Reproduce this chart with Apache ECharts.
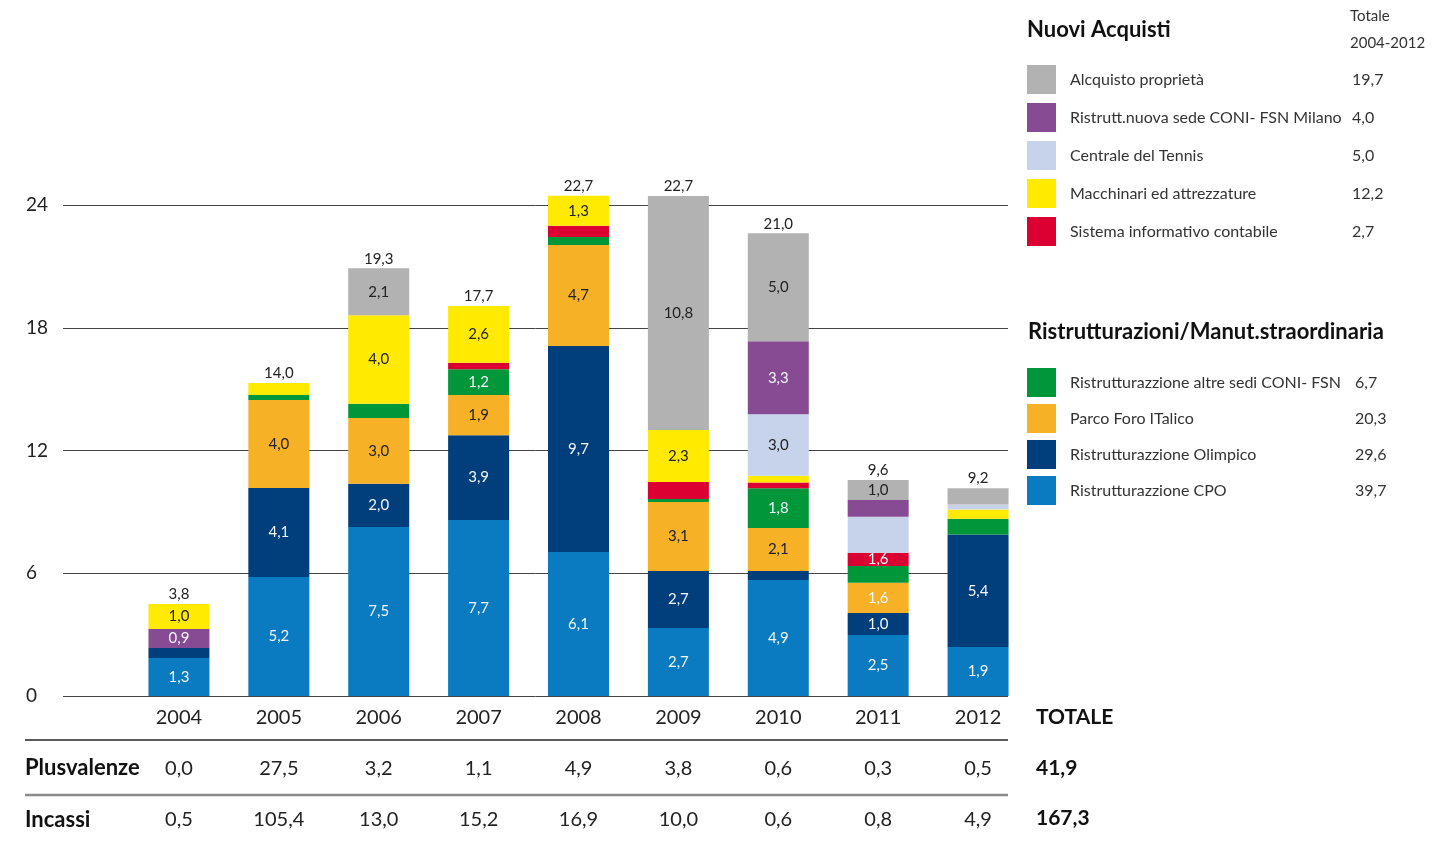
<!DOCTYPE html>
<html>
<head>
<meta charset="utf-8">
<title>Investimenti 2004-2012</title>
<script src="https://cdn.jsdelivr.net/npm/echarts@6/dist/echarts.min.js"></script>
<style>
  html, body { margin: 0; padding: 0; background: #fff; }
  #chart { width: 1437px; height: 848px; }
</style>
</head>
<body>
<div id="chart"></div>
<script>
// anni (categorie)
var years = ["2004", "2005", "2006", "2007", "2008", "2009", "2010", "2011", "2012"];

// altezze dei segmenti (dal basso verso l'alto)
var cpo        = [1.86, 5.82, 8.26, 8.60, 7.04, 3.32, 5.67, 2.98, 2.39];
var olimpico   = [0.49, 4.35, 2.12, 4.15, 10.07, 2.79, 0.44, 1.08, 5.51];
var parco      = [0, 4.30, 3.21, 1.96, 4.94, 3.37, 2.10, 1.47, 0];
var altreSedi  = [0, 0.24, 0.70, 1.26, 0.38, 0.15, 1.94, 0.82, 0.77];
var sistema    = [0, 0, 0, 0.32, 0.55, 0.83, 0.29, 0.65, 0];
// nel 2004 il viola sta sotto il giallo
var milano2004 = [0.93, 0, 0, 0, 0, 0, 0, 0, 0];
var macchinari = [1.22, 0.59, 4.32, 2.77, 1.47, 2.54, 0.33, 0, 0.45];
var tennis     = [0, 0, 0, 0, 0, 0, 3.00, 1.76, 0.24];
var milano     = [0, 0, 0, 0, 0, 0, 3.57, 0.82, 0];
var acquisto   = [0, 0, 2.30, 0, 0, 11.44, 5.28, 0.98, 0.80];

// etichette stampate sui segmenti
var lblCpo        = ["1,3", "5,2", "7,5", "7,7", "6,1", "2,7", "4,9", "2,5", "1,9"];
var lblOlimpico   = ["", "4,1", "2,0", "3,9", "9,7", "2,7", "", "1,0", "5,4"];
var lblParco      = ["", "4,0", "3,0", "1,9", "4,7", "3,1", "2,1", "1,6", ""];
var lblAltreSedi  = ["", "", "", "1,2", "", "", "1,8", "", ""];
var lblSistema    = ["", "", "", "", "", "", "", "1,6", ""];
var lblMilano2004 = ["0,9", "", "", "", "", "", "", "", ""];
var lblMacchinari = ["1,0", "", "4,0", "2,6", "1,3", "2,3", "", "", ""];
var lblTennis     = ["", "", "", "", "", "", "3,0", "", ""];
var lblMilano     = ["", "", "", "", "", "", "3,3", "", ""];
var lblAcquisto   = ["", "", "2,1", "", "", "10,8", "5,0", "1,0", ""];

// totali sopra le barre
var totals = ["3,8", "14,0", "19,3", "17,7", "22,7", "22,7", "21,0", "9,6", "9,2"];

// tabella sotto il grafico
var plusvalenze = ["0,0", "27,5", "3,2", "1,1", "4,9", "3,8", "0,6", "0,3", "0,5"];
var incassi     = ["0,5", "105,4", "13,0", "15,2", "16,9", "10,0", "0,6", "0,8", "4,9"];
var totPlusvalenze = "41,9";
var totIncassi = "167,3";

// totali di legenda 2004-2012
var nuoviNames  = ["Alcquisto proprietà", "Ristrutt.nuova sede CONI- FSN Milano", "Centrale del Tennis", "Macchinari ed attrezzature", "Sistema informativo contabile"];
var nuoviTotals = ["19,7", "4,0", "5,0", "12,2", "2,7"];
var ristrNames  = ["Ristrutturazzione altre sedi CONI- FSN", "Parco Foro ITalico", "Ristrutturazzione Olimpico", "Ristrutturazzione CPO"];
var ristrTotals = ["6,7", "20,3", "29,6", "39,7"];

// tick asse y
var yTicks = [0, 6, 12, 18, 24];

var FONT = "Lato";
var DARK = "#222";
var LIGHT = "#f2f6fb";

// definizione serie (ordine di impilamento)
var defs = [
  { name: "Ristrutturazzione CPO", color: "#0a7bc0", values: cpo, labels: lblCpo, txt: LIGHT },
  { name: "Ristrutturazzione Olimpico", color: "#003e7c", values: olimpico, labels: lblOlimpico, txt: LIGHT },
  { name: "Parco Foro ITalico", color: "#f6b126", values: parco, labels: lblParco, txt: DARK },
  { name: "Ristrutturazzione altre sedi CONI- FSN", color: "#00963a", values: altreSedi, labels: lblAltreSedi, txt: LIGHT },
  { name: "Sistema informativo contabile", color: "#dc0032", values: sistema, labels: lblSistema, txt: LIGHT },
  { name: "Ristrutt.nuova sede CONI- FSN Milano", color: "#874b93", values: milano2004, labels: lblMilano2004, txt: LIGHT },
  { name: "Macchinari ed attrezzature", color: "#ffea00", values: macchinari, labels: lblMacchinari, txt: DARK },
  { name: "Centrale del Tennis", color: "#c7d3ea", values: tennis, labels: lblTennis, txt: DARK },
  { name: "Ristrutt.nuova sede CONI- FSN Milano", color: "#874b93", values: milano, labels: lblMilano, txt: LIGHT },
  { name: "Alcquisto proprietà", color: "#b2b2b2", values: acquisto, labels: lblAcquisto, txt: DARK }
];

var series = defs.map(function (d) {
  return {
    name: d.name,
    type: "bar",
    stack: "tot",
    xAxisIndex: 1,
    yAxisIndex: 1,
    barWidth: 61,
    clip: false,
    itemStyle: { color: d.color },
    label: {
      show: true,
      position: "inside",
      fontFamily: FONT,
      fontSize: 15,
      color: d.txt,
      formatter: function (p) { return d.labels[p.dataIndex]; }
    },
    emphasis: { disabled: true },
    data: d.values.map(function (v, i) {
      // nel 2011 l'etichetta sul parco e' bianca
      if (d.values === parco && years[i] === "2011") {
        return { value: v, label: { color: LIGHT } };
      }
      return v;
    })
  };
});

// serie vuota in cima per il totale
series.push({
  name: "totale",
  type: "bar",
  stack: "tot",
  xAxisIndex: 1,
  yAxisIndex: 1,
  barWidth: 61,
  clip: false,
  itemStyle: { color: "transparent" },
  label: {
    show: true,
    position: "top",
    distance: 2,
    fontFamily: FONT,
    fontSize: 15,
    color: DARK,
    formatter: function (p) { return totals[p.dataIndex]; }
  },
  data: years.map(function () { return 0; })
});

function legendFmt(names, vals) {
  return function (name) {
    return "{n|" + name + "}{v|" + vals[names.indexOf(name)] + "}";
  };
}
function legendRich(w) {
  return {
    n: { width: w, padding: [0, 0, 0, 9], fontFamily: FONT, fontSize: 16, color: "#333" },
    v: { fontFamily: FONT, fontSize: 16, color: "#333" }
  };
}

var myChart = echarts.init(document.getElementById("chart"));
myChart.setOption({
  animation: false,
  textStyle: { fontFamily: FONT },
  grid: [
    // griglia per le linee orizzontali e tick
    { left: 63, right: 429, top: 205, bottom: 152 },
    // griglia delle barre
    { left: 129, right: 409, top: 205, bottom: 152 }
  ],
  legend: [
    {
      data: nuoviNames,
      orient: "vertical",
      left: 1027,
      top: 65,
      padding: 0,
      itemWidth: 29,
      itemHeight: 29,
      itemGap: 9,
      icon: "rect",
      selectedMode: false,
      formatter: legendFmt(nuoviNames, nuoviTotals),
      textStyle: { rich: legendRich(282) }
    },
    {
      data: ristrNames,
      orient: "vertical",
      left: 1027,
      top: 368,
      padding: 0,
      itemWidth: 29,
      itemHeight: 29,
      itemGap: 7,
      icon: "rect",
      selectedMode: false,
      formatter: legendFmt(ristrNames, ristrTotals),
      textStyle: { rich: legendRich(285) }
    }
  ],
  xAxis: [
    { gridIndex: 0, type: "value", show: false },
    {
      gridIndex: 1,
      type: "category",
      data: years,
      axisLine: { show: false },
      axisTick: { show: false },
      axisLabel: { margin: 12, fontFamily: FONT, fontSize: 20, color: DARK }
    },
    {
      // riga Plusvalenze
      gridIndex: 1,
      type: "category",
      position: "bottom",
      offset: 53,
      data: years,
      axisLine: { show: false },
      axisTick: { show: false },
      axisLabel: {
        margin: 10, fontFamily: FONT, fontSize: 20, color: DARK,
        formatter: function (v, i) { return plusvalenze[i]; }
      }
    },
    {
      // riga Incassi
      gridIndex: 1,
      type: "category",
      position: "bottom",
      offset: 104,
      data: years,
      axisLine: { show: false },
      axisTick: { show: false },
      axisLabel: {
        margin: 10, fontFamily: FONT, fontSize: 20, color: DARK,
        formatter: function (v, i) { return incassi[i]; }
      }
    }
  ],
  yAxis: [
    {
      gridIndex: 0,
      type: "value",
      min: yTicks[0],
      max: yTicks[yTicks.length - 1],
      interval: 6,
      axisLine: { show: false },
      axisTick: { show: false },
      axisLabel: { margin: 37, align: "left", fontFamily: FONT, fontSize: 19, color: DARK },
      splitLine: { lineStyle: { color: "#444", width: 1 } }
    },
    {
      gridIndex: 1,
      type: "value",
      min: yTicks[0],
      max: yTicks[yTicks.length - 1],
      show: false,
      splitLine: { show: false }
    }
  ],
  graphic: [
    { type: "text", x: 1027, y: 30, style: { text: "Nuovi Acquisti", fontFamily: FONT, fontSize: 22, fontWeight: "bold", fill: "#111", verticalAlign: "middle" } },
    { type: "text", x: 1350, y: 16, style: { text: "Totale", fontFamily: FONT, fontSize: 15, fill: "#333", verticalAlign: "middle" } },
    { type: "text", x: 1350, y: 43, style: { text: "2004-2012", fontFamily: FONT, fontSize: 15, fill: "#333", verticalAlign: "middle" } },
    { type: "text", x: 1028, y: 332, style: { text: "Ristrutturazioni/Manut.straordinaria", fontFamily: FONT, fontSize: 22, fontWeight: "bold", fill: "#111", verticalAlign: "middle" } },
    // tabella
    { type: "line", shape: { x1: 25, y1: 740, x2: 1008, y2: 740 }, style: { stroke: "#222", lineWidth: 1.5 } },
    { type: "line", shape: { x1: 25, y1: 795, x2: 1008, y2: 795 }, style: { stroke: "#8a8a8a", lineWidth: 2.5 } },
    { type: "text", x: 1036, y: 717, style: { text: "TOTALE", fontFamily: FONT, fontSize: 21, fontWeight: "bold", fill: "#111", verticalAlign: "middle" } },
    { type: "text", x: 25, y: 768, style: { text: "Plusvalenze", fontFamily: FONT, fontSize: 22, fontWeight: "bold", fill: "#111", verticalAlign: "middle" } },
    { type: "text", x: 1036, y: 768, style: { text: totPlusvalenze, fontFamily: FONT, fontSize: 21, fontWeight: "bold", fill: "#111", verticalAlign: "middle" } },
    { type: "text", x: 25, y: 820, style: { text: "Incassi", fontFamily: FONT, fontSize: 22, fontWeight: "bold", fill: "#111", verticalAlign: "middle" } },
    { type: "text", x: 1036, y: 818, style: { text: totIncassi, fontFamily: FONT, fontSize: 21, fontWeight: "bold", fill: "#111", verticalAlign: "middle" } }
  ],
  series: series
});
</script>
</body>
</html>
